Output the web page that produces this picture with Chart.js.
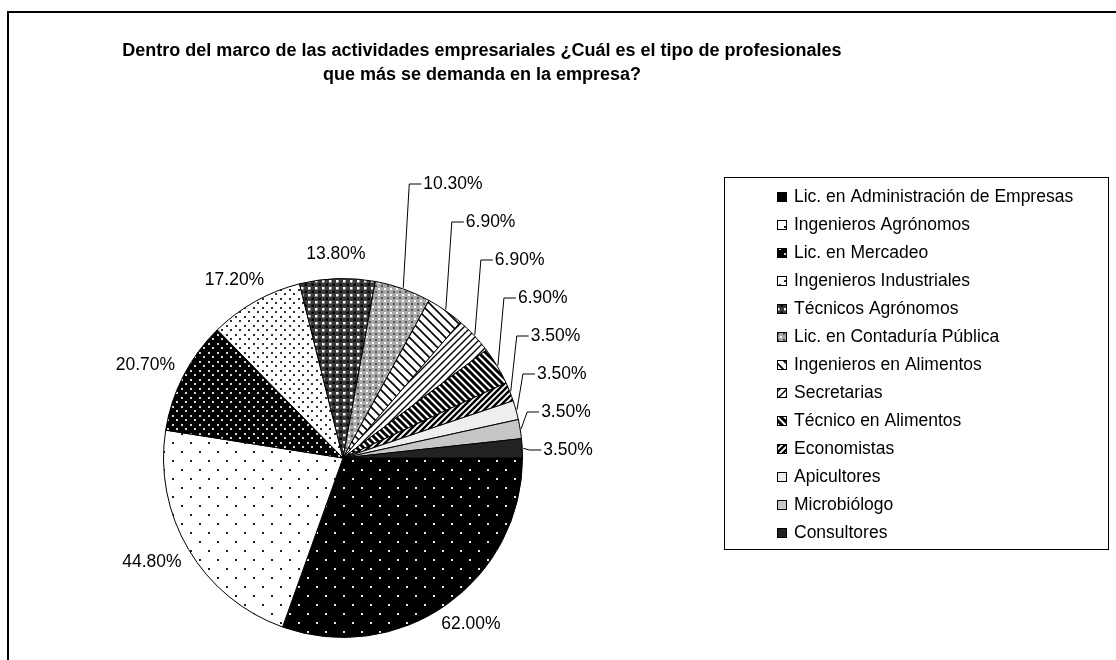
<!DOCTYPE html>
<html>
<head>
<meta charset="utf-8">
<script src="https://cdn.jsdelivr.net/npm/chart.js@4.4.1/dist/chart.umd.min.js"></script>
<style>
    html, body { margin: 0; padding: 0; background: #fff; }
    #contenedor { width: 1116px; height: 660px; }
</style>
</head>
<body>
<div id="contenedor"><canvas id="grafico" width="1116" height="660"></canvas></div>
<script>
// Datos del gráfico
const titulo = [
    'Dentro del marco de las actividades empresariales ¿Cuál es el tipo de profesionales',
    'que más se demanda en la empresa?'
];
const categorias = [
    'Lic. en Administración de Empresas',
    'Ingenieros Agrónomos',
    'Lic. en Mercadeo',
    'Ingenieros Industriales',
    'Técnicos Agrónomos',
    'Lic. en Contaduría Pública',
    'Ingenieros en Alimentos',
    'Secretarias',
    'Técnico en Alimentos',
    'Economistas',
    'Apicultores',
    'Microbiólogo',
    'Consultores'
];
const porcentajes = [62.0, 44.8, 20.7, 17.2, 13.8, 10.3, 6.9, 6.9, 6.9, 3.5, 3.5, 3.5, 3.5];

const fuente = '"Liberation Sans", Arial, sans-serif';

// Función para crear un patrón de relleno a partir de un pequeño canvas
function crearPatron(fondo, tam, dibujar) {
    const c = document.createElement('canvas');
    c.width = tam;
    c.height = tam;
    const g = c.getContext('2d');
    g.fillStyle = fondo;
    g.fillRect(0, 0, tam, tam);
    if (dibujar) dibujar(g, tam);
    return g.createPattern(c, 'repeat');
}

// Puntos en cuadrícula escalonada
function puntos(fondo, color, tam, d) {
    return crearPatron(fondo, tam, (g, s) => {
        g.fillStyle = color;
        const m = Math.floor(s / 2);
        g.fillRect(1, 1, d, d);
        g.fillRect(1 + m, 1 + m, d, d);
    });
}

// Cuadros alternados (tipo tablero)
function tablero(fondo, claro, oscuro, tam) {
    return crearPatron(fondo, tam, (g, s) => {
        const m = s / 2;
        g.fillStyle = claro;
        g.fillRect(0, 0, m - 1, m - 1);
        g.fillStyle = oscuro;
        g.fillRect(m, m, m - 1, m - 1);
    });
}

// Rayas diagonales: dir 1 = "/", dir -1 = "\"
function rayas(fondo, color, tam, grosor, dir) {
    return crearPatron(fondo, tam, (g, s) => {
        g.strokeStyle = color;
        g.lineWidth = grosor;
        g.beginPath();
        if (dir > 0) {
            g.moveTo(0, s); g.lineTo(s, 0);
            g.moveTo(-2, 2); g.lineTo(2, -2);
            g.moveTo(s - 2, s + 2); g.lineTo(s + 2, s - 2);
        } else {
            g.moveTo(0, 0); g.lineTo(s, s);
            g.moveTo(s - 2, -2); g.lineTo(s + 2, 2);
            g.moveTo(-2, s - 2); g.lineTo(2, s + 2);
        }
        g.stroke();
    });
}

const rellenos = [
    puntos('#000000', '#e6e6e6', 18, 2),
    puntos('#ffffff', '#202020', 18, 2),
    puntos('#000000', '#d8d8d8', 9, 2),
    puntos('#ffffff', '#303030', 9, 2),
    tablero('#3a3a3a', '#ffffff', '#000000', 7),
    tablero('#a8a8a8', '#ffffff', '#555555', 6),
    rayas('#ffffff', '#000000', 9, 1.6, -1),
    rayas('#ffffff', '#000000', 7, 1.4, 1),
    rayas('#ffffff', '#000000', 7, 3, -1),
    rayas('#ffffff', '#000000', 6, 2.4, 1),
    '#eeeeee',
    '#c6c6c6',
    '#222222'
];

// Plugin para el marco, el título, las etiquetas y la leyenda
const pluginExtras = {
    id: 'extras',
    beforeDraw(chart) {
        const ctx = chart.ctx;
        ctx.save();
        ctx.fillStyle = '#ffffff';
        ctx.fillRect(0, 0, chart.width, chart.height);
        ctx.strokeStyle = '#000000';
        ctx.lineWidth = 2;
        ctx.strokeRect(8, 12, 1200, 700);
        ctx.restore();
    },
    afterDraw(chart) {
        const ctx = chart.ctx;
        ctx.save();

        // Título
        ctx.fillStyle = '#000000';
        ctx.textAlign = 'center';
        ctx.textBaseline = 'middle';
        ctx.font = 'bold 18px ' + fuente;
        titulo.forEach((linea, i) => ctx.fillText(linea, 482, 51 + i * 24));

        // Etiquetas de porcentaje
        const meta = chart.getDatasetMeta(0);
        const valores = chart.data.datasets[0].data;
        ctx.font = '17.5px ' + fuente;
        ctx.textBaseline = 'middle';
        ctx.lineWidth = 1;
        ctx.strokeStyle = '#000000';
        const ultimo = valores.length - 1;
        meta.data.forEach((arco, i) => {
            const p = arco.getProps(['x', 'y', 'startAngle', 'endAngle', 'outerRadius'], true);
            const medio = (p.startAngle + p.endAngle) / 2;
            const cx = Math.cos(medio), cy = Math.sin(medio);
            const texto = valores[i].toFixed(2) + '%';
            const ancho = ctx.measureText(texto).width;
            if (valores[i] > 12) {
                const r = p.outerRadius + 13;
                const x = p.x + cx * r + cx * ancho / 2;
                const y = p.y + cy * r + cy * 11;
                ctx.textAlign = 'center';
                ctx.fillText(texto, x, y);
            } else {
                // con línea guía
                const bx = p.x + cx * (p.outerRadius + 1);
                const by = p.y + cy * (p.outerRadius + 1);
                const ly = p.y - 8 - (ultimo - i) * 38;
                const lx = bx + 20;
                ctx.beginPath();
                ctx.moveTo(bx, by);
                ctx.lineTo(lx - 14, ly);
                ctx.lineTo(lx - 2, ly);
                ctx.stroke();
                ctx.textAlign = 'left';
                ctx.fillText(texto, lx, ly);
            }
        });

        // Leyenda
        const caja = { x: 724, y: 177, w: 384, h: 372 };
        ctx.lineWidth = 1;
        ctx.strokeRect(caja.x + 0.5, caja.y + 0.5, caja.w, caja.h);
        const fondos = chart.data.datasets[0].backgroundColor;
        ctx.textAlign = 'left';
        chart.data.labels.forEach((etiqueta, i) => {
            const y = 197 + i * 28;
            ctx.fillStyle = fondos[i];
            ctx.fillRect(777, y - 5, 10, 10);
            ctx.strokeRect(777.5, y - 4.5, 9, 9);
            ctx.fillStyle = '#000000';
            ctx.fillText(etiqueta, 794, y);
        });

        ctx.restore();
    }
};

new Chart(document.getElementById('grafico'), {
    type: 'pie',
    data: {
        labels: categorias,
        datasets: [{
            data: porcentajes,
            backgroundColor: rellenos,
            borderColor: '#000000',
            borderWidth: 1
        }]
    },
    options: {
        responsive: false,
        animation: false,
        rotation: 90,
        layout: { padding: { left: 163, right: 593, top: 278, bottom: 22 } },
        plugins: {
            legend: { display: false },
            title: { display: false },
            tooltip: { enabled: false }
        }
    },
    plugins: [pluginExtras]
});
</script>
</body>
</html>
